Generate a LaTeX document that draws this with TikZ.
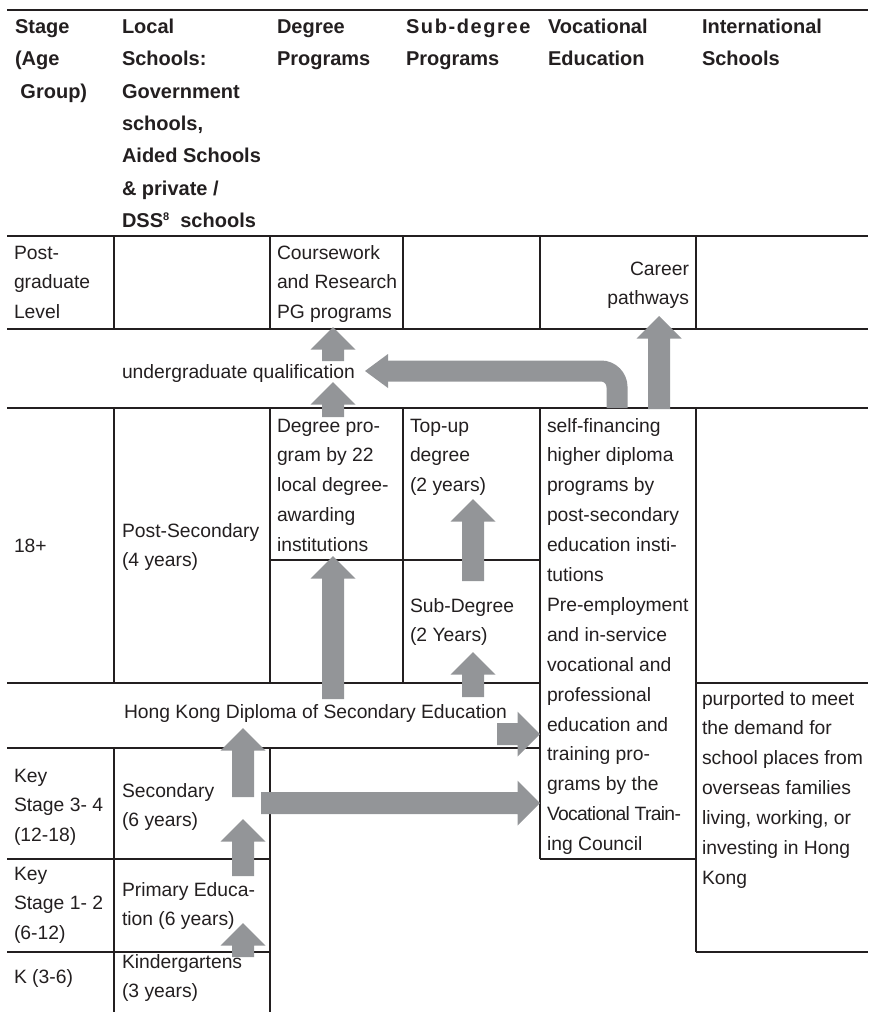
\documentclass[tikz,border=0pt]{standalone}
\usepackage{fontspec}
\setmainfont{Liberation Sans}
\usetikzlibrary{calc}

\definecolor{ink}{RGB}{35,31,32}
\definecolor{arrowgray}{RGB}{147,149,152}

\newcommand{\bodyfont}{\fontsize{19.3}{29.9}\selectfont}
\newcommand{\headfont}{\fontsize{20}{32.4}\selectfont\bfseries}
\newcommand{\lines}[1]{\begin{tabular}[t]{@{}l@{}}#1\end{tabular}}
\newcommand{\rlines}[1]{\begin{tabular}[t]{@{}r@{}}#1\end{tabular}}

% block arrow from a tail coordinate to a tip coordinate
\newcommand{\blockarrow}[2]{%
  \coordinate (#2-hb) at ($(#2)!22.5pt!(#1)$);
  \fill[arrowgray] ($(#1)!11pt!90:(#2)$) -- ($(#2-hb)!11pt!90:(#2)$)
    -- ($(#2-hb)!22.5pt!90:(#2)$) -- (#2) -- ($(#2-hb)!22.5pt!-90:(#2)$)
    -- ($(#2-hb)!11pt!-90:(#2)$) -- ($(#1)!11pt!-90:(#2)$) -- cycle;}

\tikzset{
  rule/.style={draw=ink, line width=1.4pt},
  heavyrule/.style={draw=ink, line width=2pt},
  cell/.style={inner sep=0pt, outer sep=0pt, text=ink, font=\bodyfont, anchor=base west},
  headcell/.style={cell, font=\headfont},
}

\begin{document}
\begin{tikzpicture}[x=1pt,y=-1pt]
\useasboundingbox (0,0) rectangle (868,1012);

% ---- horizontal rules
\draw[heavyrule] (7,10) -- (868,10);
\draw[heavyrule] (7,236) -- (868,236);
\draw[rule] (7,329) -- (868,329);
\draw[rule] (7,408) -- (868,408);
\draw[rule] (270,560) -- (540,560);
\draw[rule] (7,683) -- (540,683);
\draw[rule] (696,683) -- (868,683);
\draw[rule] (7,748) -- (540,748);
\draw[rule] (7,859) -- (270,859);
\draw[rule] (540,859) -- (696,859);
\draw[rule] (7,952) -- (270,952);
\draw[rule] (696,952) -- (868,952);

% ---- vertical rules
\draw[rule] (114,236) -- (114,329);
\draw[rule] (114,408) -- (114,683);
\draw[rule] (114,748) -- (114,1012);
\draw[rule] (270,236) -- (270,329);
\draw[rule] (270,408) -- (270,683);
\draw[rule] (270,748) -- (270,1012);
\draw[rule] (403,236) -- (403,329);
\draw[rule] (403,408) -- (403,683);
\draw[rule] (540,236) -- (540,329);
\draw[rule] (540,408) -- (540,859);
\draw[rule] (696,236) -- (696,329);
\draw[rule] (696,408) -- (696,952);

% ---- header row
\node[headcell] (hStage) at (15,33.3) {\lines{Stage\\(Age\\\hspace*{5.5pt}Group)}};
\node[headcell] (hLocal) at (122,33.3) {\lines{Local\\Schools:\\Government\\schools,\\Aided Schools\\\& private /\\DSS\raisebox{7.5pt}{\fontsize{11}{11}\selectfont 8}\ \ schools}};
\node[headcell] (hDeg) at (277,33.3) {\lines{Degree\\Programs}};
\node[headcell] (hSub) at (406,33.3) {\lines{{\addfontfeature{LetterSpace=8}Sub-degree}\\Programs}};
\node[headcell] (hVoc) at (548,33.3) {\lines{Vocational\\Education}};
\node[headcell] (hIntl) at (702,33.3) {\lines{International\\Schools}};

% ---- postgraduate row
\node[cell] (pgStage) at (14,259) {\lines{Post-\\graduate\\Level}};
\node[cell] (pgDeg) at (277,259) {\lines{Coursework\\and Research\\PG programs}};
\node[cell, anchor=base east] (career) at (689,275) {\rlines{Career\\pathways}};

% ---- undergraduate qualification band
\node[cell] (ugq) at (122,378) {undergraduate qualification};

% ---- 18+ row
\node[cell] (adult) at (14,552) {18+};
\node[cell] (postsec) at (122,537) {\lines{Post-Secondary\\(4 years)}};
\node[cell] (degprog) at (277,432) {\lines{Degree pro-\\gram by 22\\local degree-\\awarding\\institutions}};
\node[cell] (topup) at (410,432) {\lines{Top-up\\degree\\(2 years)}};
\node[cell] (subdeg) at (410,612) {\lines{Sub-Degree\\(2 Years)}};
\node[cell] (voc) at (547,432) {\lines{self-financing\\higher diploma\\programs by\\post-secondary\\education insti-\\tutions\\Pre-employment\\and in-service\\vocational and\\professional\\education and\\training pro-\\grams by the\\{\addfontfeature{LetterSpace=-3.5}Vocational Train-}\\ing Council}};

% ---- HKDSE band and international schools
\node[cell] (hkdse) at (124,718) {Hong Kong Diploma of Secondary Education};
\node[cell] (intl) at (702,705) {\lines{purported to meet\\the demand for\\school places from\\overseas families\\living, working, or\\investing in Hong\\Kong}};

% ---- school stages
\node[cell] (ks34) at (14,782) {\lines{Key\\Stage 3- 4\\(12-18)}};
\node[cell] (secondary) at (122,797) {\lines{Secondary\\(6 years)}};
\node[cell] (ks12) at (14,880) {\lines{Key\\Stage 1- 2\\(6-12)}};
\node[cell] (primary) at (122,896) {\lines{Primary Educa-\\tion (6 years)}};
\node[cell] (kstage) at (14,983) {K (3-6)};
\node[cell] (kinder) at (122,968) {\lines{Kindergartens\\(3 years)}};

% ---- arrow end points
\coordinate (ugUpT) at (333,361);   \coordinate (ugUpH) at (333,327);
\coordinate (degUpT) at (333,417);  \coordinate (degUpH) at (333,382);
\coordinate (carT) at (659,409);    \coordinate (carH) at (659,316);
\coordinate (dseDegT) at (333,699); \coordinate (dseDegH) at (333,556);
\coordinate (subTopT) at (473,581); \coordinate (subTopH) at (473,499);
\coordinate (dseSubT) at (473,697); \coordinate (dseSubH) at (473,652);
\coordinate (dseVocT) at (497,734); \coordinate (dseVocH) at (540,734);
\coordinate (secVocT) at (261,803); \coordinate (secVocH) at (540,803);
\coordinate (secDseT) at (243,797); \coordinate (secDseH) at (243,728);
\coordinate (priSecT) at (243,876); \coordinate (priSecH) at (243,819);
\coordinate (kPriT) at (243,957);   \coordinate (kPriH) at (243,923);
\coordinate (bendT) at (617,408);   \coordinate (bendS) at (385,371);
\coordinate (bendH) at (365,371);

% ---- block arrows
\blockarrow{ugUpT}{ugUpH}
\blockarrow{degUpT}{degUpH}
\blockarrow{carT}{carH}
\blockarrow{dseDegT}{dseDegH}
\blockarrow{subTopT}{subTopH}
\blockarrow{dseSubT}{dseSubH}
\blockarrow{dseVocT}{dseVocH}
\blockarrow{secVocT}{secVocH}
\blockarrow{secDseT}{secDseH}
\blockarrow{priSecT}{priSecH}
\blockarrow{kPriT}{kPriH}

% bent arrow from vocational education back to the undergraduate band
\draw[arrowgray, line width=21pt, rounded corners=16pt] (bendT) |- (bendS);
\fill[arrowgray] ($(bendH)+(23,-17)$) -- (bendH) -- ($(bendH)+(23,17)$) -- cycle;

\end{tikzpicture}
\end{document}
